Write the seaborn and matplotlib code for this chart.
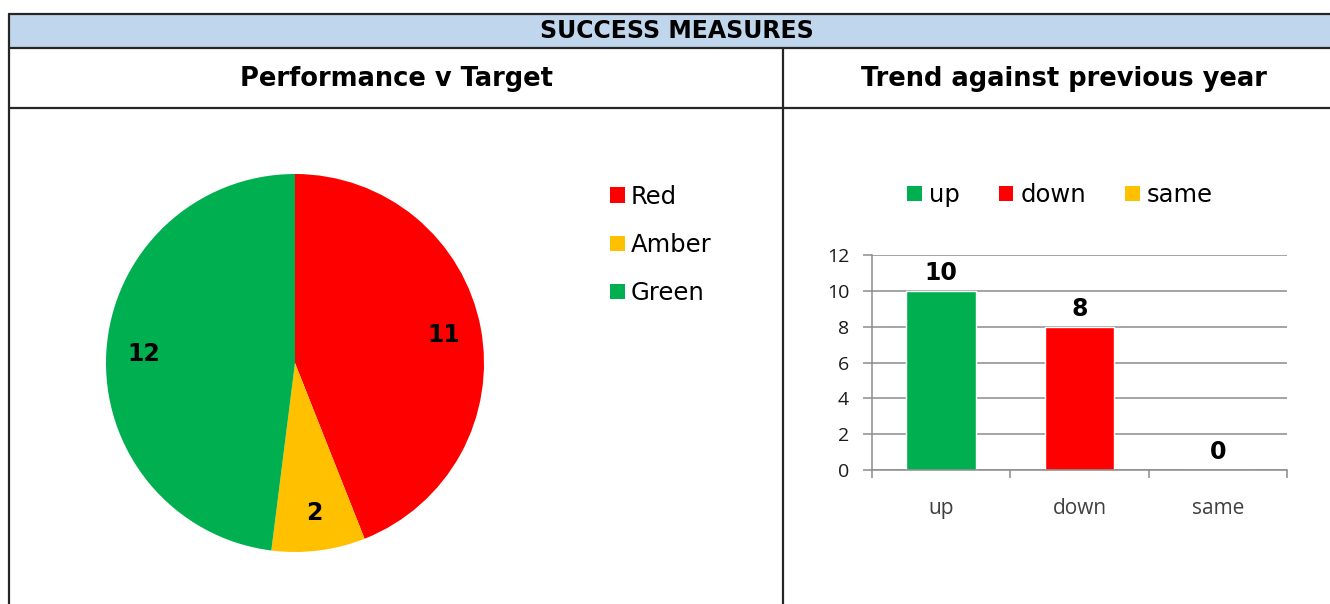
import matplotlib
matplotlib.use("Agg")
import matplotlib.pyplot as plt
from matplotlib.patches import Rectangle, Patch
from matplotlib.lines import Line2D
import seaborn as sns
import pandas as pd

# ---- data ----
title_main = "SUCCESS MEASURES"
title_left = "Performance v Target"
title_right = "Trend against previous year"

pie_labels = ["Red", "Amber", "Green"]
pie_values = [11, 2, 12]
pie_colors = ["#FF0000", "#FFC000", "#00B050"]

trend_cats = ["up", "down", "same"]
trend_values = [10, 8, 0]
trend_colors = ["#00B050", "#FF0000", "#FFC000"]
y_ticks = [0, 2, 4, 6, 8, 10, 12]

sns.set_style("white")
plt.rcParams["font.family"] = ["DejaVu Sans"]

W, H = 1330, 604
fig = plt.figure(figsize=(W / 100, H / 100), dpi=100)


def fx(px):
    return px / W


def fy(py):
    return 1 - py / H


# ---- table frame ----
fig.patches.append(Rectangle((fx(9), fy(48)), fx(W) - fx(9), fy(14) - fy(48),
                             transform=fig.transFigure, facecolor="#BFD6EC",
                             edgecolor="none", zorder=0))
lc = "#262626"
lw = 1.6
for (x0, y0, x1, y1) in [(9, 14, W, 14), (9, 48, W, 48), (9, 108, W, 108),
                         (9, 14, 9, H), (783, 48, 783, H)]:
    fig.add_artist(Line2D([fx(x0), fx(x1)], [fy(y0), fy(y1)],
                          transform=fig.transFigure, color=lc, lw=lw))

fig.text(fx(677), fy(31), title_main, ha="center", va="center",
         fontsize=17, fontweight="bold", color="black")
fig.text(fx(397), fy(79), title_left, ha="center", va="center",
         fontsize=18.5, fontweight="bold", color="black")
fig.text(fx(1064), fy(79), title_right, ha="center", va="center",
         fontsize=18.5, fontweight="bold", color="black")

# ---- pie ----
cx, cy, r = 295, 363, 189
ax_pie = fig.add_axes([fx(cx - r), fy(cy + r), (2 * r) / W, (2 * r) / H])
wedges, texts, autotexts = ax_pie.pie(
    pie_values, colors=pie_colors, startangle=90, counterclock=False,
    autopct=lambda p: f"{round(p * sum(pie_values) / 100):d}",
    pctdistance=0.8, radius=1.0,
    wedgeprops=dict(edgecolor="none"),
    textprops=dict(fontsize=17, fontweight="bold", color="black"))
ax_pie.set_xlim(-1, 1)
ax_pie.set_ylim(-1, 1)
ax_pie.set_aspect("auto")
ax_pie.axis("off")

pie_handles = [Patch(facecolor=c, edgecolor="none") for c in pie_colors]
fig.legend(pie_handles, pie_labels, loc="center left",
           bbox_to_anchor=(fx(598), fy(245)), frameon=False,
           fontsize=17.5, handlelength=0.6, handleheight=0.6,
           handletextpad=0.25, labelspacing=1.0, borderpad=0,
           labelcolor="black")

# ---- bar chart ----
bx0, bx1, by0, by1 = 872, 1287, 470, 255
ax_bar = fig.add_axes([fx(bx0), fy(by0), (bx1 - bx0) / W, (by0 - by1) / H])
df = pd.DataFrame({"cat": trend_cats, "val": trend_values})
sns.barplot(data=df, x="cat", y="val", hue="cat", palette=trend_colors,
            width=0.505, ax=ax_bar, legend=False, saturation=1)
ax_bar.set_ylim(0, 12)
ax_bar.set_xlim(-0.5, 2.5)
ax_bar.set_yticks(y_ticks)
ax_bar.set_xlabel("")
ax_bar.set_ylabel("")
ax_bar.yaxis.grid(True, color="#8C8C8C", lw=1.1)
ax_bar.set_axisbelow(True)
for s in ["top", "right"]:
    ax_bar.spines[s].set_visible(False)
for s in ["left", "bottom"]:
    ax_bar.spines[s].set_color("#8C8C8C")
    ax_bar.spines[s].set_linewidth(1.1)
ax_bar.set_xticks([-0.5, 0.5, 1.5, 2.5], minor=True)
ax_bar.tick_params(axis="x", which="major", length=0, pad=20,
                   labelsize=15, labelcolor="#404040")
ax_bar.tick_params(axis="x", which="minor", length=6, color="#8C8C8C",
                   width=1.1, direction="out", bottom=True)
ax_bar.tick_params(axis="y", length=6.5, color="#8C8C8C", width=1.1,
                   direction="out", left=True, pad=10, labelsize=14,
                   labelcolor="#1A1A1A")
for lab in ax_bar.get_xticklabels() + ax_bar.get_yticklabels():
    lab.set_fontfamily("Open Sans")
for cont in ax_bar.containers:
    ax_bar.bar_label(cont, padding=4, fontsize=17, fontweight="bold",
                     color="black")

bar_handles = [Patch(facecolor=c, edgecolor="none") for c in trend_colors]
fig.legend(bar_handles, trend_cats, loc="center",
           bbox_to_anchor=(fx(1060), fy(195)), frameon=False, ncol=3,
           fontsize=17.5, handlelength=0.6, handleheight=0.6,
           handletextpad=0.3, columnspacing=1.6, borderpad=0,
           labelcolor="black")

fig.savefig("out.png", dpi=100)
